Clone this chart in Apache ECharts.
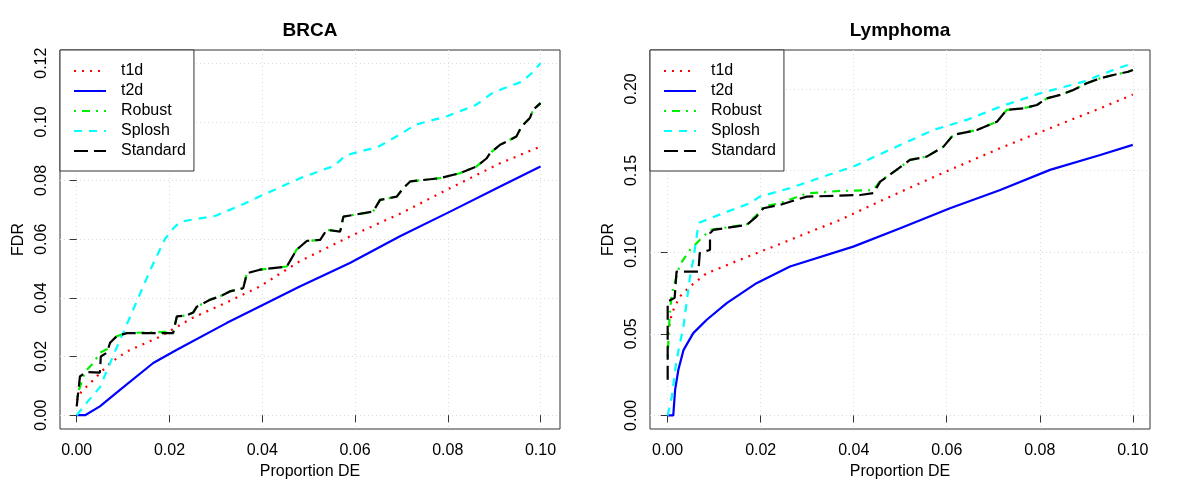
<!DOCTYPE html>
<html>
<head>
<meta charset="utf-8">
<script src="https://cdn.jsdelivr.net/npm/echarts@6/dist/echarts.min.js"></script>
<style>
html, body { margin: 0; padding: 0; background: #fff; }
#chart { width: 1200px; height: 500px; }
</style>
</head>
<body>
<div id="chart"></div>
<script>
var seriesNames = ['t1d', 't2d', 'Robust', 'Splosh', 'Standard'];
var panelTitles = ['BRCA', 'Lymphoma'];
var xTicks = [0, 0.02, 0.04, 0.06, 0.08, 0.10];
var brcaYTicks = [0, 0.02, 0.04, 0.06, 0.08, 0.10, 0.12];
var lymYTicks = [0, 0.05, 0.10, 0.15, 0.20];

// BRCA panel, [proportion DE, FDR]
var brcaT1d = [[0,0.005],[0.001,0.008],[0.0036,0.012],[0.0072,0.0178],[0.0108,0.0217],[0.018,0.0268],[0.025,0.0332],[0.032,0.0382],[0.0395,0.0439],[0.048,0.0524],[0.059,0.061],[0.07,0.0689],[0.0805,0.0774],[0.0913,0.0859],[0.1,0.0916]];
var brcaT2d = [[0,0],[0.0018,0],[0.005,0.003],[0.0094,0.0087],[0.0165,0.0178],[0.0216,0.0223],[0.0323,0.0314],[0.04,0.0375],[0.0481,0.0439],[0.0589,0.0519],[0.0697,0.061],[0.0805,0.0694],[0.0913,0.078],[0.1,0.0848]];
var brcaRobust = [[0,0.006],[0.0005,0.0087],[0.0018,0.0149],[0.0036,0.0178],[0.005,0.0213],[0.0065,0.0225],[0.0072,0.0247],[0.0086,0.0269],[0.0108,0.028],[0.0208,0.0285],[0.0216,0.0337],[0.0237,0.034],[0.0251,0.035],[0.0259,0.037],[0.0288,0.0394],[0.0309,0.0405],[0.033,0.0422],[0.0359,0.0433],[0.0367,0.0484],[0.0395,0.0496],[0.0453,0.0507],[0.0474,0.0564],[0.0496,0.0594],[0.0525,0.0598],[0.0539,0.0632],[0.0568,0.0626],[0.0575,0.0677],[0.0639,0.0694],[0.0654,0.0734],[0.069,0.0745],[0.0704,0.0774],[0.0719,0.0797],[0.0783,0.0808],[0.0826,0.0825],[0.0862,0.0848],[0.0884,0.0876],[0.0891,0.0893],[0.0913,0.0922],[0.0948,0.095],[0.0959,0.0984],[0.0977,0.1013],[0.0984,0.1041],[0.1,0.1064]];
var brcaSplosh = [[0,0],[0.002,0.004],[0.005,0.0095],[0.0086,0.023],[0.01,0.028],[0.013,0.039],[0.016,0.05],[0.019,0.06],[0.021,0.064],[0.0224,0.066],[0.03,0.068],[0.036,0.072],[0.04,0.075],[0.0485,0.081],[0.0555,0.085],[0.058,0.0886],[0.065,0.0915],[0.07,0.096],[0.073,0.099],[0.08,0.102],[0.086,0.1057],[0.0895,0.1097],[0.092,0.1114],[0.096,0.1137],[0.098,0.1165],[0.1,0.12]];
var brcaStandard = [[0,0.003],[0.0007,0.0132],[0.002,0.0147],[0.005,0.0145],[0.0052,0.02],[0.0065,0.0213],[0.0072,0.0247],[0.0086,0.0269],[0.0108,0.028],[0.0208,0.028],[0.0216,0.0337],[0.0237,0.034],[0.0251,0.035],[0.0259,0.037],[0.0288,0.0394],[0.0309,0.0405],[0.033,0.0422],[0.0359,0.0433],[0.0367,0.0484],[0.0395,0.0496],[0.0453,0.0507],[0.0474,0.0564],[0.0496,0.0594],[0.0525,0.0598],[0.0539,0.0632],[0.0568,0.0626],[0.0575,0.0677],[0.0639,0.0694],[0.0654,0.0734],[0.069,0.0745],[0.0704,0.0774],[0.0719,0.0797],[0.0783,0.0808],[0.0826,0.0825],[0.0862,0.0848],[0.0884,0.0876],[0.0891,0.0893],[0.0913,0.0922],[0.0948,0.095],[0.0959,0.0984],[0.0977,0.1013],[0.0984,0.1041],[0.1,0.1064]];

// Lymphoma panel
var lymT1d = [[0,0.05],[0.0009,0.0627],[0.0026,0.0728],[0.0048,0.079],[0.0084,0.0871],[0.0155,0.0953],[0.0227,0.1034],[0.0299,0.1116],[0.0371,0.1198],[0.0478,0.134],[0.0607,0.1504],[0.0715,0.1637],[0.0822,0.1759],[0.093,0.1881],[0.1,0.1965]];
var lymT2d = [[0,0],[0.0012,0],[0.0016,0.0157],[0.0023,0.028],[0.0034,0.04],[0.0055,0.0504],[0.0084,0.0586],[0.0127,0.0688],[0.0191,0.081],[0.0263,0.0912],[0.0399,0.1034],[0.05,0.1147],[0.0607,0.1269],[0.0715,0.1381],[0.0822,0.1504],[0.093,0.1595],[0.1,0.1657]];
var lymRobust = [[0,0.036],[0.0004,0.06],[0.0009,0.0749],[0.0026,0.0922],[0.0048,0.1014],[0.0069,0.1075],[0.0091,0.1136],[0.017,0.117],[0.0191,0.1225],[0.0206,0.128],[0.0242,0.13],[0.0299,0.136],[0.0371,0.1375],[0.0442,0.138],[0.0457,0.1435],[0.0492,0.1504],[0.0521,0.1565],[0.0557,0.1585],[0.0593,0.1646],[0.0614,0.1718],[0.0665,0.1748],[0.0708,0.1799],[0.0729,0.1871],[0.0765,0.1881],[0.0794,0.1901],[0.0815,0.1942],[0.0844,0.1963],[0.0872,0.1993],[0.0901,0.2034],[0.093,0.2065],[0.0958,0.2085],[0.099,0.2105],[0.1,0.2115]];
var lymSplosh = [[0,0],[0.0009,0.0116],[0.0019,0.034],[0.0034,0.0545],[0.0048,0.085],[0.0055,0.0953],[0.0066,0.1167],[0.0069,0.1182],[0.012,0.1239],[0.0177,0.13],[0.0198,0.134],[0.0263,0.1392],[0.0335,0.1463],[0.0399,0.1524],[0.0492,0.1646],[0.0571,0.1748],[0.0643,0.181],[0.0715,0.1891],[0.0801,0.1973],[0.0894,0.2044],[0.0958,0.2116],[0.1,0.2157]];
var lymStandard = [[0,0.0218],[0,0.0698],[0.0015,0.072],[0.0019,0.0881],[0.0066,0.0881],[0.0069,0.0994],[0.0091,0.1014],[0.0091,0.1116],[0.0098,0.1136],[0.017,0.1167],[0.0191,0.1218],[0.0206,0.1269],[0.0242,0.129],[0.0299,0.134],[0.0414,0.135],[0.0442,0.1361],[0.0457,0.1432],[0.0492,0.1504],[0.0521,0.1565],[0.0557,0.1585],[0.0593,0.1646],[0.0614,0.1718],[0.0665,0.1748],[0.0708,0.1799],[0.0729,0.1871],[0.0765,0.1881],[0.0794,0.1901],[0.0815,0.1942],[0.0844,0.1963],[0.0872,0.1993],[0.0901,0.2034],[0.093,0.2065],[0.0958,0.2085],[0.099,0.2105],[0.1,0.2115]];

var styles = {
    t1d: { color: '#ff0000', type: [2, 6] },
    t2d: { color: '#0000ff', type: 'solid' },
    Robust: { color: '#00ee00', type: [2, 6, 8, 6] },
    Splosh: { color: '#00ffff', type: [8, 7] },
    Standard: { color: '#000000', type: [14, 6] }
};

var font = 'Liberation Sans, Arial, Helvetica, sans-serif';
var chart = echarts.init(document.getElementById('chart'), null, { renderer: 'canvas' });

function makeSeries(name, data, idx) {
    return {
        name: name,
        type: 'line',
        xAxisIndex: idx,
        yAxisIndex: idx,
        data: data,
        symbol: 'none',
        silent: true,
        z: 3,
        lineStyle: { color: styles[name].color, width: 2.2, type: styles[name].type },
        itemStyle: { color: styles[name].color }
    };
}

function makeX(idx, min, max) {
    return {
        type: 'value', gridIndex: idx, min: min, max: max,
        name: 'Proportion DE', nameLocation: 'middle', nameGap: 33,
        nameTextStyle: { fontSize: 16, fontFamily: font, color: '#000' },
        axisLine: { show: false },
        axisTick: { show: true, length: 7, customValues: xTicks, lineStyle: { color: '#333' } },
        axisLabel: {
            customValues: xTicks, margin: 14, fontSize: 16, fontFamily: font, color: '#000',
            formatter: function(v) { return v.toFixed(2); }
        },
        splitLine: { show: true, lineStyle: { color: '#dcdcdc', type: [1, 3], width: 1 } }
    };
}

function makeY(idx, min, max, ticks) {
    return {
        type: 'value', gridIndex: idx, min: min, max: max,
        name: 'FDR', nameLocation: 'middle', nameGap: 33, nameRotate: 90,
        nameTextStyle: { fontSize: 16, fontFamily: font, color: '#000' },
        axisLine: { show: false },
        axisTick: { show: true, length: 7, customValues: ticks, lineStyle: { color: '#333' } },
        axisLabel: {
            customValues: ticks, rotate: 90, margin: 10, fontSize: 16, fontFamily: font, color: '#000',
            formatter: function(v) { return v.toFixed(2); }
        },
        splitLine: { show: true, lineStyle: { color: '#dcdcdc', type: [1, 3], width: 1 } }
    };
}

function makeLegend(left) {
    return {
        data: seriesNames,
        orient: 'vertical',
        left: left, top: 50,
        itemWidth: 32, itemHeight: 14, itemGap: 4,
        padding: [13, 8, 12, 13],
        backgroundColor: '#fff',
        borderColor: '#333', borderWidth: 1, borderRadius: 0,
        itemStyle: { opacity: 0 },
        selectedMode: false,
        textStyle: { fontSize: 16, fontFamily: font, color: '#000', padding: [0, 0, 0, 10] }
    };
}

var option = {
    animation: false,
    backgroundColor: '#fff',
    title: [
        { text: panelTitles[0], left: 310, top: 21, textAlign: 'center', padding: 0,
          textStyle: { fontSize: 19, fontWeight: 'bold', fontFamily: font, color: '#000' } },
        { text: panelTitles[1], left: 900, top: 21, textAlign: 'center', padding: 0,
          textStyle: { fontSize: 19, fontWeight: 'bold', fontFamily: font, color: '#000' } }
    ],
    legend: [makeLegend(60), makeLegend(650)],
    grid: [
        { left: 60, width: 500, top: 50, bottom: 71, show: true, borderColor: '#333', borderWidth: 1, backgroundColor: 'transparent' },
        { left: 650, width: 500, top: 50, bottom: 71, show: true, borderColor: '#333', borderWidth: 1, backgroundColor: 'transparent' }
    ],
    xAxis: [makeX(0, -0.0036, 0.1042), makeX(1, -0.0038, 0.1037)],
    yAxis: [makeY(0, -0.0047, 0.1245, brcaYTicks), makeY(1, -0.0083, 0.2238, lymYTicks)],
    series: [
        makeSeries('t1d', brcaT1d, 0),
        makeSeries('t2d', brcaT2d, 0),
        makeSeries('Robust', brcaRobust, 0),
        makeSeries('Splosh', brcaSplosh, 0),
        makeSeries('Standard', brcaStandard, 0),
        makeSeries('t1d', lymT1d, 1),
        makeSeries('t2d', lymT2d, 1),
        makeSeries('Robust', lymRobust, 1),
        makeSeries('Splosh', lymSplosh, 1),
        makeSeries('Standard', lymStandard, 1)
    ]
};

chart.setOption(option);
</script>
</body>
</html>
